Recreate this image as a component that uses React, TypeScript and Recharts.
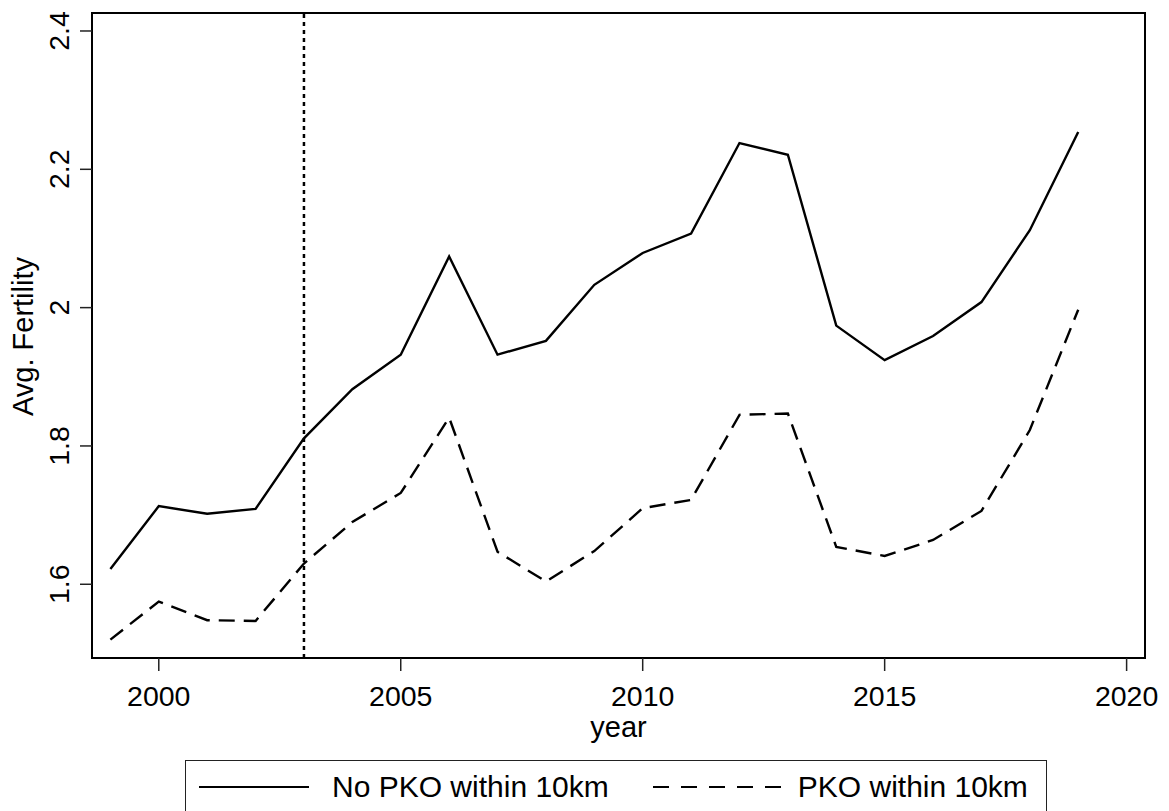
import { LineChart, Line, XAxis, YAxis, ReferenceLine, ReferenceArea, Legend, Label } from "recharts";

const FONT = '"Liberation Sans", Arial, Helvetica, sans-serif';

// Data
const years = [1999, 2000, 2001, 2002, 2003, 2004, 2005, 2006, 2007, 2008, 2009, 2010, 2011, 2012, 2013, 2014, 2015, 2016, 2017, 2018, 2019];
const noPko = [1.622, 1.713, 1.702, 1.709, 1.811, 1.882, 1.932, 2.074, 1.932, 1.952, 2.033, 2.079, 2.107, 2.238, 2.221, 1.974, 1.924, 1.959, 2.008, 2.112, 2.254];
const pko = [1.520, 1.575, 1.548, 1.547, 1.630, 1.690, 1.732, 1.841, 1.647, 1.604, 1.648, 1.710, 1.722, 1.845, 1.847, 1.654, 1.641, 1.664, 1.706, 1.823, 1.997];

const xTicks = [2000, 2005, 2010, 2015, 2020];
const yTicks = [1.6, 1.8, 2, 2.2, 2.4];
const xDomain: [number, number] = [1998.62, 2020.38];
const yDomain: [number, number] = [1.4934, 2.426];
const cutoffYear = 2003;

const series = [
  { key: "noPko", name: "No PKO within 10km", dash: undefined as string | undefined, legendDash: undefined as string | undefined },
  { key: "pko", name: "PKO within 10km", dash: "16 9", legendDash: "16 12" },
];

const data = years.map((year, i) => ({ year, noPko: noPko[i], pko: pko[i] }));

function YTick({ x, y, payload }: any) {
  return (
    <text x={x} y={y} transform={`rotate(-90, ${x}, ${y})`} textAnchor="middle" fontFamily={FONT} fontSize={28.5} fill="#000">
      {String(payload.value)}
    </text>
  );
}

function LegendBox() {
  return (
    <div
      style={{
        boxSizing: "border-box",
        width: 862,
        height: 54,
        border: "1.5px solid #222",
        background: "#fff",
        display: "flex",
        alignItems: "center",
        fontFamily: FONT,
        fontSize: 30,
        color: "#000",
        whiteSpace: "nowrap",
      }}
    >
      <svg width={110} height={6} style={{ marginLeft: 13 }}>
        <line x1={0} y1={3} x2={110} y2={3} stroke="#000" strokeWidth={2.2} />
      </svg>
      <span style={{ marginLeft: 23 }}>{series[0].name}</span>
      <svg width={128} height={6} style={{ marginLeft: 44 }}>
        <line x1={0} y1={3} x2={128} y2={3} stroke="#000" strokeWidth={2.2} strokeDasharray={series[1].legendDash} />
      </svg>
      <span style={{ marginLeft: 17 }}>{series[1].name}</span>
    </div>
  );
}

export default function App() {
  return (
    <div style={{ position: "absolute", left: 0, top: 0, width: 1169, height: 811, overflow: "hidden", background: "#fff" }}>
      <LineChart width={1169} height={811} data={data} margin={{ top: 13, right: 24, left: 0, bottom: 0 }}>
        <XAxis
          dataKey="year"
          type="number"
          domain={xDomain}
          ticks={xTicks}
          allowDataOverflow
          height={99}
          tickSize={13}
          tickMargin={15}
          axisLine={{ stroke: "#000", strokeWidth: 2 }}
          tickLine={{ stroke: "#222", strokeWidth: 1.5 }}
          tick={{ fontSize: 28.5, fill: "#000", fontFamily: FONT }}
        >
          <Label
            content={({ viewBox }: any) => (
              <text x={viewBox.x + viewBox.width / 2} y={viewBox.y + 79} textAnchor="middle" fontFamily={FONT} fontSize={29} fill="#000">
                year
              </text>
            )}
          />
        </XAxis>
        <YAxis
          type="number"
          domain={yDomain}
          ticks={yTicks}
          allowDataOverflow
          width={92}
          tickSize={12}
          tickMargin={11}
          axisLine={{ stroke: "#000", strokeWidth: 2 }}
          tickLine={{ stroke: "#222", strokeWidth: 1.5 }}
          tick={<YTick />}
        >
          <Label
            content={({ viewBox }: any) => {
              const cx = 33;
              const cy = viewBox.y + viewBox.height / 2 + 1;
              return (
                <text x={cx} y={cy} transform={`rotate(-90, ${cx}, ${cy})`} textAnchor="middle" fontFamily={FONT} fontSize={29} fill="#000">
                  Avg. Fertility
                </text>
              );
            }}
          />
        </YAxis>
        <ReferenceArea x1={xDomain[0]} x2={xDomain[1]} y1={yDomain[0]} y2={yDomain[1]} fill="none" stroke="#000" strokeWidth={2} ifOverflow="visible" />
        <ReferenceLine x={cutoffYear} stroke="#000" strokeWidth={2.5} strokeDasharray="4 4" ifOverflow="visible" />
        {series.map((s) => (
          <Line
            key={s.key}
            type="linear"
            dataKey={s.key}
            name={s.name}
            stroke="#000"
            strokeWidth={2.4}
            strokeDasharray={s.dash}
            dot={false}
            activeDot={false}
            isAnimationActive={false}
          />
        ))}
        <Legend
          verticalAlign="bottom"
          wrapperStyle={{ left: 185, top: 760, bottom: "auto", width: 862, height: 54 }}
          content={() => <LegendBox />}
        />
      </LineChart>
    </div>
  );
}
